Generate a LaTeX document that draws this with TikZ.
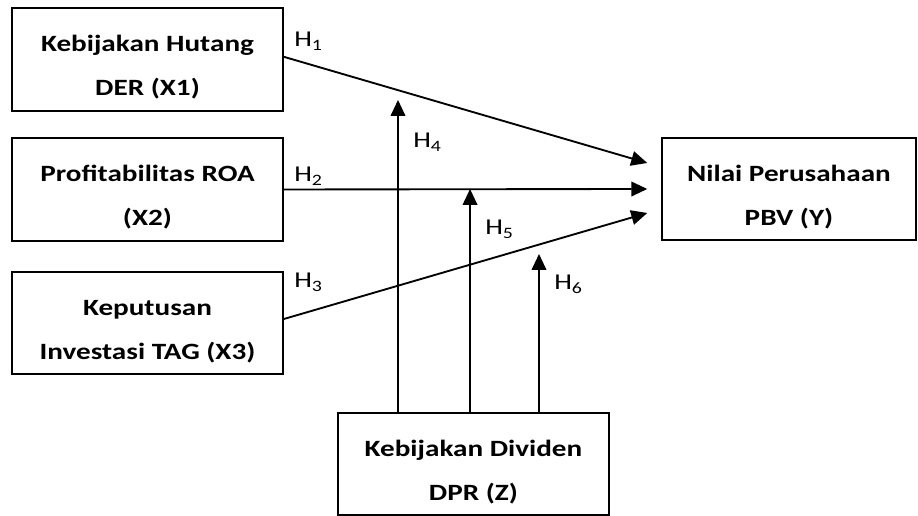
\documentclass[tikz,border=0pt]{standalone}
\usepackage{fontspec}
\setmainfont{Carlito}[FakeStretch=1.25]
\usetikzlibrary{arrows.meta}
\newcommand{\topstrut}{\rule{0pt}{24pt}}
\begin{document}
\begin{tikzpicture}[x=0.75pt,y=0.75pt,
		var/.style={draw, line width=1.6pt, align=center, font=\fontsize{17.5}{33}\selectfont\bfseries,
			minimum width=203pt, minimum height=77pt, inner sep=0pt},
		path/.style={line width=1.4pt, -{Triangle[length=12pt,width=11pt]}},
		hyp/.style={anchor=base west, inner sep=0pt, font=\fontsize{17}{19}\selectfont}]
	\useasboundingbox (0,0) rectangle (918,516);
	%--
	\node[var] (X1) at (147.5,456.5) {\topstrut Kebijakan Hutang\\DER (X1)};
	\node[var] (X2) at (147.5,326.5) {\topstrut Profitabilitas ROA\\(X2)};
	\node[var] (X3) at (147.5,193) {\topstrut Keputusan\\Investasi TAG (X3)};
	\node[var, minimum width=190pt] (Y) at (789,327) {\topstrut Nilai Perusahaan\\PBV (Y)};
	\node[var] (Z) at (473.5,52) {\topstrut Kebijakan Dividen\\DPR (Z)};
	%--
	\coordinate (M4) at (398,416);
	\coordinate (M6) at (539,262);
	\draw[path] ([yshift=2pt]X1.east) -- ([xshift=-10.5pt,yshift=19.5pt]Y.west);
	\draw[path] (X2.east) -- ([xshift=-10.5pt]Y.west);
	\draw[path] ([yshift=3pt]X3.east) -- ([xshift=-10.5pt,yshift=-18pt]Y.west);
	\draw[path] (Z.north -| M4) -- (M4);
	\draw[path] ([xshift=-2.6pt]Z.north) -- ([xshift=-2.6pt]Z.north |- Y.west);
	\draw[path] (Z.north -| M6) -- (M6);
	%--
	\node[hyp] (h1) at (294,469) {H\textsubscript{1}};
	\node[hyp] (h2) at (294,334) {H\textsubscript{2}};
	\node[hyp] (h3) at (294,228) {H\textsubscript{3}};
	\node[hyp] (h4) at (413,368) {H\textsubscript{4}};
	\node[hyp] (h5) at (485,281) {H\textsubscript{5}};
	\node[hyp] (h6) at (554,226) {H\textsubscript{6}};
\end{tikzpicture}
\end{document}
